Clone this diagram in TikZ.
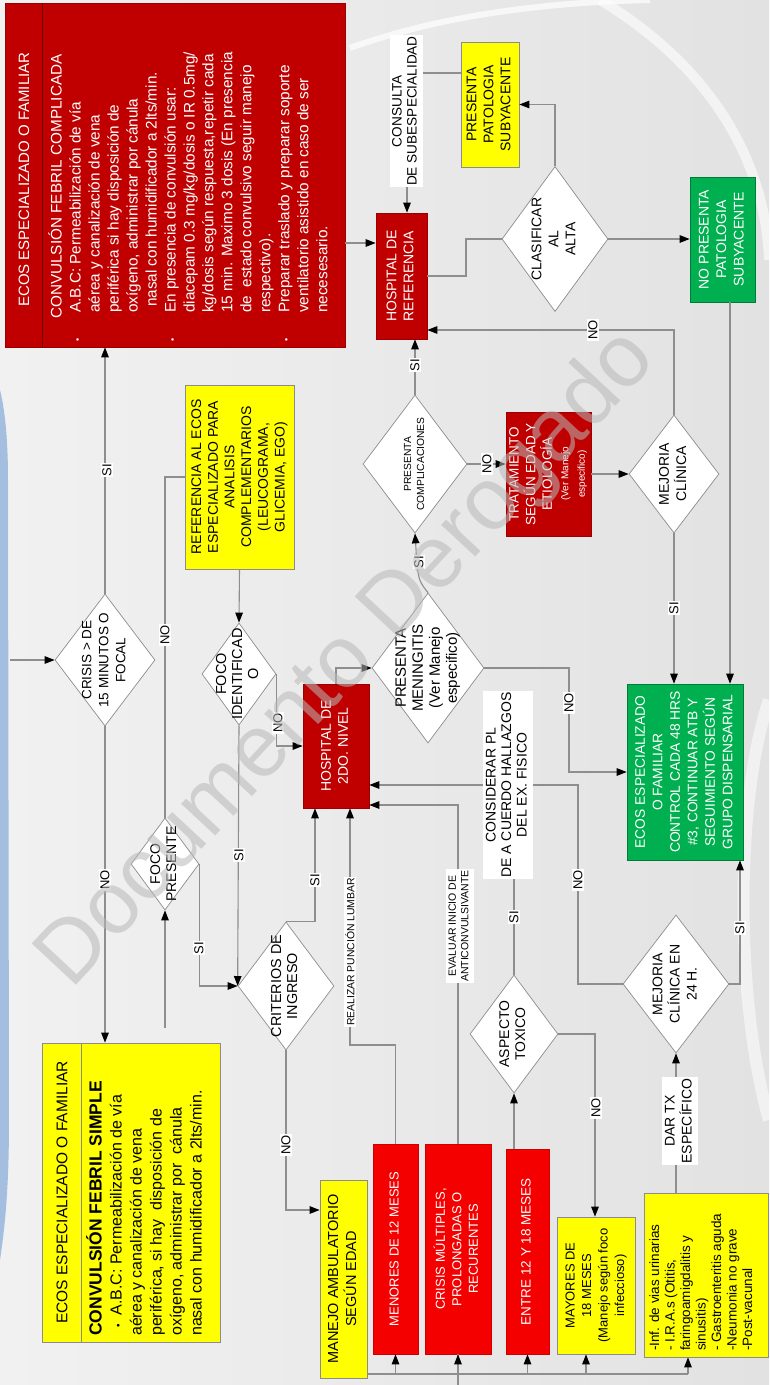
\documentclass[tikz,border=0pt]{standalone}
\usepackage{fontspec}
\setmainfont{Liberation Sans}
\usepackage{graphicx}
\usetikzlibrary{shapes.geometric,arrows.meta,calc}

\definecolor{dred}{HTML}{C00000}
\definecolor{bred}{HTML}{F40000}
\definecolor{yel}{HTML}{FFFF00}
\definecolor{grn}{HTML}{00B050}
\definecolor{lncol}{HTML}{8E8E8E}
\definecolor{bgl}{HTML}{F1F1F1}
\definecolor{bgr}{HTML}{E2E2E2}
\definecolor{blu}{HTML}{A4BEDF}

% font size / leading
\newcommand\fs[2]{\fontsize{#1}{#2}\selectfont}
% text set upright along the page (reads bottom to top), centred or left aligned
\newcommand\rt[1]{\rotatebox{90}{\begin{tabular}{@{}c@{}}#1\end{tabular}}}
\newcommand\rl[1]{\rotatebox{90}{\begin{tabular}{@{}l@{}}#1\end{tabular}}}

\tikzset{
  rbox/.style={rectangle, fill=dred, draw=dred!80!black, line width=0.6pt, text=white, inner sep=0pt},
  brbox/.style={rectangle, fill=bred, draw=bred!85!black, line width=0.6pt, text=white, inner sep=0pt},
  ybox/.style={rectangle, fill=yel, draw=black!45, line width=0.7pt, text=black, inner sep=0pt},
  gbox/.style={rectangle, fill=grn, draw=grn!70!black, line width=0.6pt, text=white, inner sep=0pt},
  dia/.style={diamond, draw=black!45, fill=white, inner sep=0pt, line width=0.7pt},
  dlab/.style={text=black, inner sep=0pt},
  wire/.style={draw=lncol, line width=1.1pt},
  arr/.style={wire, -{Triangle[length=10pt,width=7.5pt,color=black]}},
  yn/.style={fill=white, inner sep=1.2pt, font=\fs{13}{15}},
  lab/.style={fill=white, inner sep=1.5pt},
}

\begin{document}
\begin{tikzpicture}[x=1pt,y=-1pt]
\useasboundingbox (0,0) rectangle (769,1385);

% ---------- background ----------
\shade[left color=bgl, right color=bgr] (0,0) rectangle (769,1385);
\draw[white, line width=6pt, opacity=0.7] (350,48) .. controls (450,12) and (560,2) .. (650,0);
\draw[white, line width=10pt, opacity=0.6] (600,0) .. controls (700,60) and (765,150) .. (769,260);
\draw[white, line width=12pt, opacity=0.55] (769,700) .. controls (735,800) and (735,1000) .. (769,1120);
\fill[blu] (0,390) .. controls (5,410) and (8,440) .. (8,480) -- (9,1120) .. controls (9,1180) and (6,1220) .. (0,1260) -- cycle;

% ---------- boxes ----------
\node[rbox, minimum width=340, minimum height=344] (cfc) at (175,175) {};
\draw[dred!55!black, line width=0.8pt] ([xshift=38pt]cfc.north west) -- ([xshift=38pt]cfc.south west);
\node[inner sep=0pt, text=white, anchor=south, font=\fs{15}{18}] (cfcH) at (24,307)
  {\rotatebox{90}{ECOS ESPECIALIZADO O FAMILIAR}};
\node[inner sep=0pt, text=white, anchor=south west] (cfcB) at (48,345)
  {\rotatebox{90}{\fs{15.3}{19}\begin{tabular}{@{}p{32pt}@{}l@{}}
   & \hspace*{-6pt}CONVULSIÓN FEBRIL COMPLICADA\\
   \hspace*{3pt}{\fs{9}{19}\textbullet} & A.B.C: Permeabilización de vía\\
   & aérea y canalización de vena\\
   & periférica si hay disposición de\\
   & oxígeno, administrar por cánula\\
   & \hspace*{6pt}nasal con humidificador a 2lts/min.\\
   \hspace*{3pt}{\fs{9}{19}\textbullet} & En presencia de convulsión usar:\\
   & diacepam 0.3 mg/kg/dosis o IR 0.5mg/\\
   & kg/dosis según respuesta,repetir cada\\
   & 15 min. Maximo 3 dosis (En presencia\\
   & de\ \ estado convulsivo seguir manejo\\
   & respectivo).\\
   \hspace*{3pt}{\fs{9}{19}\textbullet} & Preparar traslado y preparar soporte\\
   & ventilatorio asistido en caso de ser\\
   & necesesario.
  \end{tabular}}};

\node[rbox, minimum width=51, minimum height=126] (href) at (401.5,276) {\fs{14}{17}\rt{HOSPITAL DE\\REFERENCIA}};
\node[ybox, minimum width=58, minimum height=125] (ppat) at (490,104.5) {\fs{14}{17}\rt{PRESENTA\\PATOLOGIA\\SUBYACENTE}};
\node[gbox, minimum width=65, minimum height=125] (npat) at (722.5,239.5) {\fs{14}{17.5}\rt{NO PRESENTA\\PATOLOGIA\\SUBYACENTE}};
\node[ybox, minimum width=109, minimum height=184] (refe) at (239.5,477) {\fs{14}{16.7}\rt{REFERENCIA AL ECOS\\ESPECIALIZADO PARA\\ANALISIS\\COMPLEMENTARIOS\\(LEUCOGRAMA,\\GLICEMIA, EGO)}};
\node[rbox, minimum width=85, minimum height=124] (trat) at (548.5,474) {\fs{13.5}{16.5}\rt{TRATAMIENTO\\SEGÚN EDAD Y\\ETIOLOGÍA\\{\fs{10}{13}(Ver Manejo}\\{\fs{10}{13}especifico)}}};
\node[rbox, minimum width=66, minimum height=124] (h2) at (336,746) {\fs{14}{17}\rt{HOSPITAL DE\\2DO. NIVEL}};
\node[gbox, minimum width=116, minimum height=176] (eco) at (685,772) {\fs{13.8}{17.5}\rt{ECOS ESPECIALIZADO\\O FAMILIAR\\CONTROL CADA 48 HRS\\\#3, CONTINUAR ATB Y\\SEGUIMIENTO SEGÚN\\GRUPO DISPENSARIAL}};

\node[ybox, minimum width=178, minimum height=299] (simp) at (131,1192.5) {};
\draw[black!45, line width=0.7pt] ([xshift=40pt]simp.north west) -- ([xshift=40pt]simp.south west);
\node[inner sep=0pt, font=\fs{15.5}{18}] (simpH) at (62,1192.5) {\rotatebox{90}{ECOS ESPECIALIZADO O FAMILIAR}};
\node[inner sep=0pt, anchor=south west] (simpB) at (86,1336)
  {\rotatebox{90}{\fs{16}{20}\begin{tabular}{@{}l@{}}
   {\fs{17.5}{20}\bfseries CONVULSIÓN FEBRIL SIMPLE}\\
   \hspace*{8pt}{\fs{10}{20}\textbullet}\ \ A.B.C: Permeabilización de vía\\
   aérea y canalización de vena\\
   periférica, si hay\ \ disposición de\\
   oxígeno, administrar por\ \ cánula\\
   nasal con humidificador a 2lts/min.
  \end{tabular}}};

\node[ybox, minimum width=47, minimum height=198] (amb) at (343.5,1279) {\fs{14.5}{18}\rt{MANEJO AMBULATORIO\\SEGÚN EDAD}};
\node[brbox, minimum width=45, minimum height=210] (m12) at (395.5,1249) {\fs{13}{16}\rt{MENORES DE 12 MESES}};
\node[brbox, minimum width=66, minimum height=210] (cmul) at (458,1249) {\fs{13}{16.5}\rt{CRISIS MÚLTIPLES,\\PROLONGADAS O\\RECURENTES}};
\node[brbox, minimum width=43, minimum height=205] (e1218) at (527.5,1251.5) {\fs{13.5}{16}\rt{ENTRE 12 Y 18 MESES}};
\node[ybox, minimum width=78, minimum height=137] (may) at (596,1285.5) {\fs{13}{16.5}\rt{MAYORES DE\\18 MESES\\(Manejo según foco\\infeccioso)}};
\node[ybox, minimum width=124, minimum height=164] (lst) at (706,1275) {};
\node[inner sep=0pt, anchor=south west] (lstT) at (648,1351) {\fs{13.5}{15.5}\rl{-Inf. de vias urinarias\\- I.R.A.s (Otitis,\\faringoamigdalitis y\\sinusitis)\\- Gastroenteritis aguda\\-Neumonia no grave\\-Post-vacunal}};

% ---------- decisions ----------
\node[dia, minimum width=100, minimum height=132, label={[dlab,font=\fs{13.5}{17}]center:\rt{CRISIS > DE\\15 MINUTOS O\\FOCAL}}] (cris) at (105,660) {};
\node[dia, minimum width=106, minimum height=145, label={[dlab,font=\fs{14}{17}]center:\rt{CLASIFICAR\\AL\\ALTA}}] (clas) at (555,239) {};
\node[dia, minimum width=104, minimum height=138, label={[dlab,font=\fs{10.3}{13}]center:\rt{PRESENTA\\COMPLICACIONES}}] (comp) at (415,464) {};
\node[dia, minimum width=90, minimum height=118, label={[dlab,font=\fs{14}{17}]center:\rt{MEJORIA\\CLÍNICA}}] (mej) at (674,474) {};
\node[dia, minimum width=74, minimum height=102, label={[dlab,font=\fs{14.5}{16}]center:\rt{FOCO\\IDENTIFICAD\\O}}] (fid) at (239,674) {};
\node[dia, minimum width=112, minimum height=150, label={[dlab,font=\fs{15}{17}]center:\rt{PRESENTA\\MENINGITIS\\(Ver Manejo\\especifico)}}] (men) at (428,668) {};
\node[dia, minimum width=68, minimum height=92, label={[dlab,font=\fs{14}{16}]center:\rt{FOCO\\PRESENTE}}] (fpr) at (165,864) {};
\node[dia, minimum width=96, minimum height=128, label={[dlab,font=\fs{14.4}{16}]center:\rt{CRITERIOS DE\\INGRESO}}] (crit) at (286,986) {};
\node[dia, minimum width=88, minimum height=118, label={[dlab,font=\fs{14}{16}]center:\rt{ASPECTO\\TOXICO}}] (asp) at (514,1034) {};
\node[dia, minimum width=106, minimum height=138, label={[dlab,font=\fs{14}{17}]center:\rt{MEJORIA\\CLÍNICA EN\\24 H.}}] (m24) at (676,984) {};

% ---------- free ends and bends ----------
\coordinate (inL) at (10,660);
\coordinate (inF) at (165,1028);
\coordinate (inB) at (458,1385);
\coordinate (busL) at (367,1374);
\coordinate (busR) at (688,1374);
\coordinate (kPL) at (350,1045);
\coordinate (kNO) at (578,785);
\coordinate (kM) at (569,720);
\coordinate (kH) at (466,256);

% ---------- connectors ----------
\draw[arr] (inL) -- (cris.west);
\draw[arr] (cris.north) -- (cris.north |- cfc.south);
\draw[arr] (cris.south) -- (cris.south |- simp.north);
\draw[wire] (fpr.north) |- (refe.west);
\draw[arr] (refe.south) -- (fid.north);
\draw[arr] (fid.east) |- (h2.west);
\draw[arr] (fid.south) -- (crit.west);
\draw[arr] (fpr.east) |- (crit.west);
\draw[arr] (inF) -- (fpr.south);
\draw[arr] (crit.north) -| ([xshift=-21pt]h2.south);
\draw[arr] (crit.south) |- ([yshift=69pt]amb.west);

\draw[wire] (inB) -- (cmul.south);
\draw[wire] (busL) -- (busR);
\draw[arr] (m12.south |- busL) -- (m12.south);
\draw[arr] (cmul.south |- busL) -- (cmul.south);
\draw[arr] (e1218.south |- busL) -- (e1218.south);
\draw[arr] ([xshift=-10pt]may.south |- busL) -- ([xshift=-10pt]may.south);
\draw[arr] (busR) -- (busR |- lst.south);

\draw[arr] (m12.north) |- (kPL) -- (kPL |- h2.south);
\draw[arr] (cmul.north) |- ([yshift=-59pt]h2.east);
\draw[arr] (asp.south |- e1218.north) -- (asp.south);
\draw[arr] (asp.east) -| ([xshift=-1pt]may.north);
\draw[arr] (asp.north) |- ([yshift=-39pt]h2.east);
\draw[wire] (m24.west) -| (kNO) -- (kNO -| asp.north);
\draw[arr] (m24.east) -| ([xshift=55pt]eco.south);
\draw[arr] (m24.south |- lst.north) -- (m24.south);

\draw[arr] (h2.north) |- (men.west);
\draw[arr] (men.east) -| (kM) |- (eco.west);
\draw[arr] (men.north) .. controls (418,580) .. (comp.south);
\draw[arr] (comp.east) -- (comp.east -| trat.west);
\draw[arr] (comp.north) -- (comp.north |- href.south);
\draw[arr] (trat.east) -- (mej.west);
\draw[arr] (mej.north) |- ([yshift=-54pt]href.east);
\draw[arr] (mej.south) -- (mej.south |- eco.north);

\draw[arr] ([xshift=7.5pt]npat.south) -- ([xshift=7.5pt]npat.south |- eco.north);
\draw[arr] (clas.east) -- (clas.east -| npat.west);
\draw[arr] (clas.north) |- (ppat.east);
\draw[wire] (href.east) -| (kH) |- (clas.west);
\draw[arr] (cfc.east |- href.west) ++(0,-33) -- ([yshift=33pt]href.west);
\draw[arr] ([yshift=31.5pt]ppat.west) -| ([xshift=5.5pt]href.north);

% ---------- connector labels ----------
\node[yn] (l1) at (107,470) {\rotatebox{90}{SI}};
\node[yn] (l2) at (105,880) {\rotatebox{90}{NO}};
\node[yn] (l3) at (165,635) {\rotatebox{90}{NO}};
\node[yn] (l4) at (278,723) {\rotatebox{90}{NO}};
\node[yn] (l5) at (239,855) {\rotatebox{90}{SI}};
\node[yn] (l6) at (199,948) {\rotatebox{90}{SI}};
\node[yn] (l7) at (315,880) {\rotatebox{90}{SI}};
\node[yn] (l8) at (286,1145) {\rotatebox{90}{NO}};
\node[yn] (l9) at (514,917) {\rotatebox{90}{SI}};
\node[yn] (l10) at (596,1108) {\rotatebox{90}{NO}};
\node[yn] (l11) at (578,880) {\rotatebox{90}{NO}};
\node[yn] (l12) at (740,928) {\rotatebox{90}{SI}};
\node[yn] (l13) at (569,703) {\rotatebox{90}{NO}};
\node[yn] (l14) at (419,562) {\rotatebox{90}{SI}};
\node[yn] (l15) at (487,464) {\rotatebox{90}{NO}};
\node[yn] (l16) at (415,365) {\rotatebox{90}{SI}};
\node[yn] (l17) at (593,330) {\rotatebox{90}{NO}};
\node[yn] (l18) at (674,608) {\rotatebox{90}{SI}};

\node[lab, font=\fs{10.4}{12}] (lPL) at (350,952) {\rotatebox{90}{REALIZAR PUNCIÓN LUMBAR}};
\node[lab, font=\fs{10.5}{12.5}] (lEV) at (459.5,926) {\rt{EVALUAR INICIO DE\\ANTICONVULSIVANTE}};
\node[lab, font=\fs{14}{15.5}] (lCP) at (508,785) {\rt{CONSIDERAR PL\\DE A CUERDO HALLAZGOS\\DEL EX. FISICO}};
\node[lab, font=\fs{14}{16}] (lDT) at (680,1121) {\rt{DAR TX\\ESPECÍFICO}};
\node[lab, font=\fs{13.6}{15}] (lCS) at (406,111) {\rt{CONSULTA\\DE SUBESPECIALIDAD}};

% ---------- watermark ----------
\node[rotate=47, text=black!28, opacity=0.55, inner sep=0pt, font=\fs{88}{88}] (wm) at (348,660) {Documento Derogado};
\end{tikzpicture}
\end{document}
